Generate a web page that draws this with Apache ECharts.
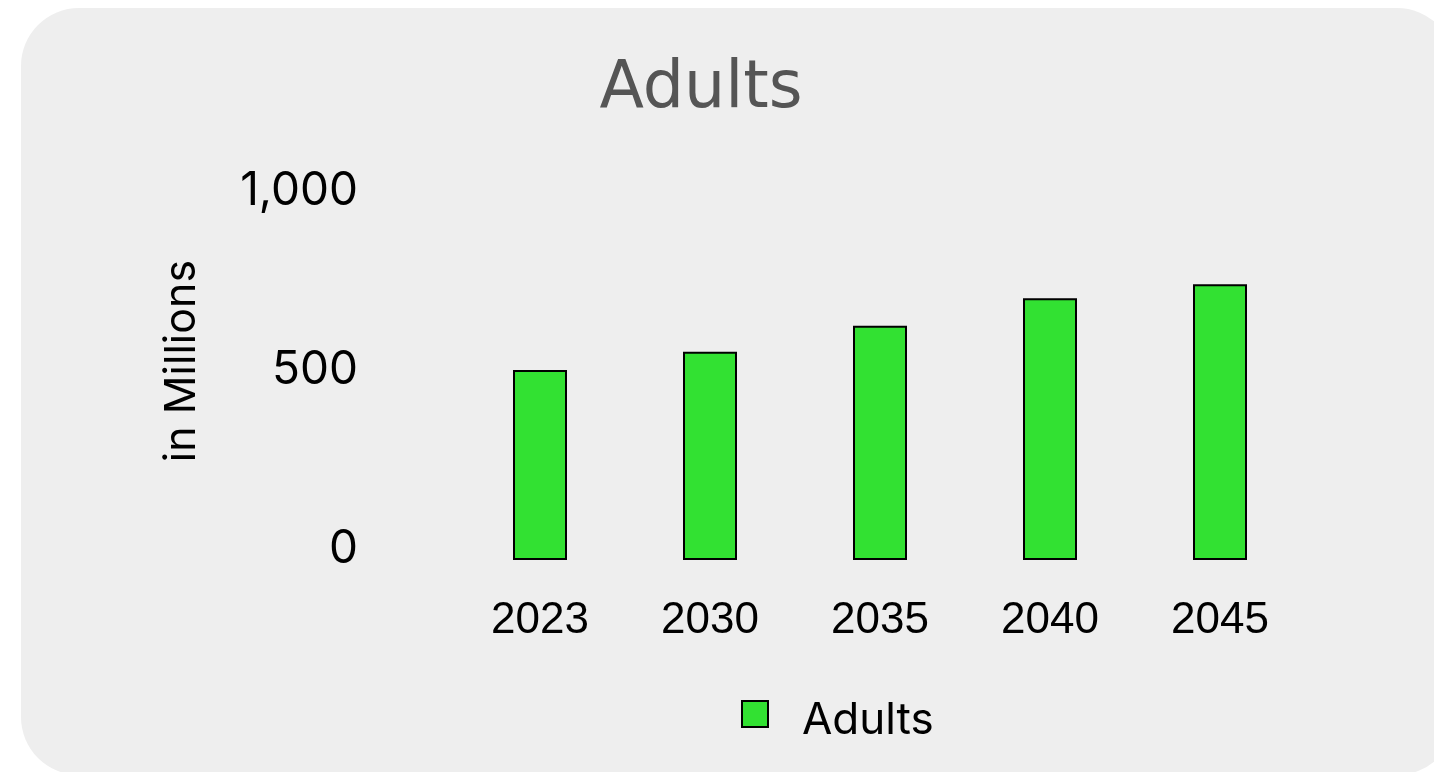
<!DOCTYPE html>
<html>
<head>
<meta charset="utf-8">
<script src="https://cdn.jsdelivr.net/npm/echarts@6/dist/echarts.min.js"></script>
<style>
html,body{margin:0;padding:0;background:#ffffff;}
#chart{width:1434px;height:772px;}
</style>
</head>
<body>
<div id="chart"></div>
<script>
const categories = ['2023', '2030', '2035', '2040', '2045'];
const adultsValues = [531, 582, 654, 731, 770];
const yTicks = [0, 500, 1000];
const seriesName = 'Adults';
const titleText = 'Adults';
const yAxisName = 'in Millions';

const chart = echarts.init(document.getElementById('chart'), null, {renderer: 'canvas'});
const fmt = v => v.toLocaleString('en-US');
chart.setOption({
  animation: false,
  backgroundColor: '#ffffff',
  graphic: [{
    type: 'rect', z: -10, silent: true,
    shape: {x: 21, y: 8, width: 1434, height: 767, r: 58},
    style: {fill: '#eeeeee'}
  }],
  title: {
    text: titleText, left: 696, top: 53, textAlign: 'center',
    textStyle: {fontFamily: 'DejaVu Sans', fontSize: 65, fontWeight: 'normal', color: '#555555'}
  },
  legend: {
    data: [seriesName], left: 741, top: 685, padding: 0,
    itemWidth: 26, itemHeight: 26, icon: 'rect',
    itemStyle: {borderColor: '#000000', borderWidth: 2},
    formatter: name => '{t|' + name + '}',
    textStyle: {
      fontFamily: 'Inter', fontSize: 44, color: '#000000',
      rich: {t: {fontFamily: 'Inter', fontSize: 44, color: '#000000', lineHeight: 44, padding: [14, 0, 0, 29]}}
    }
  },
  grid: {left: 455, right: 129, top: 202, bottom: 212, containLabel: false},
  xAxis: {
    type: 'category', data: categories,
    axisLine: {show: false}, axisTick: {show: false},
    axisLabel: {fontFamily: 'Liberation Sans', fontSize: 44, color: '#000000', margin: 39}
  },
  yAxis: {
    type: 'value', min: 0, max: 1000, interval: 500,
    name: yAxisName, nameLocation: 'middle', nameRotate: 90, nameGap: 251,
    nameTextStyle: {fontFamily: 'Inter', fontSize: 43, color: '#000000', padding: [0, 0, 0, 40]},
    axisLine: {show: false}, axisTick: {show: false}, splitLine: {show: false},
    axisLabel: {
      fontFamily: 'Inter', fontSize: 46, color: '#000000', margin: 97,
      verticalAlign: 'bottom', lineHeight: 22,
      formatter: v => yTicks.includes(v) ? fmt(v) : ''
    }
  },
  series: [{
    name: seriesName, type: 'bar', data: adultsValues, barWidth: 54,
    itemStyle: {color: '#32e132', borderColor: '#000000', borderWidth: 2}
  }]
});
</script>
</body>
</html>
